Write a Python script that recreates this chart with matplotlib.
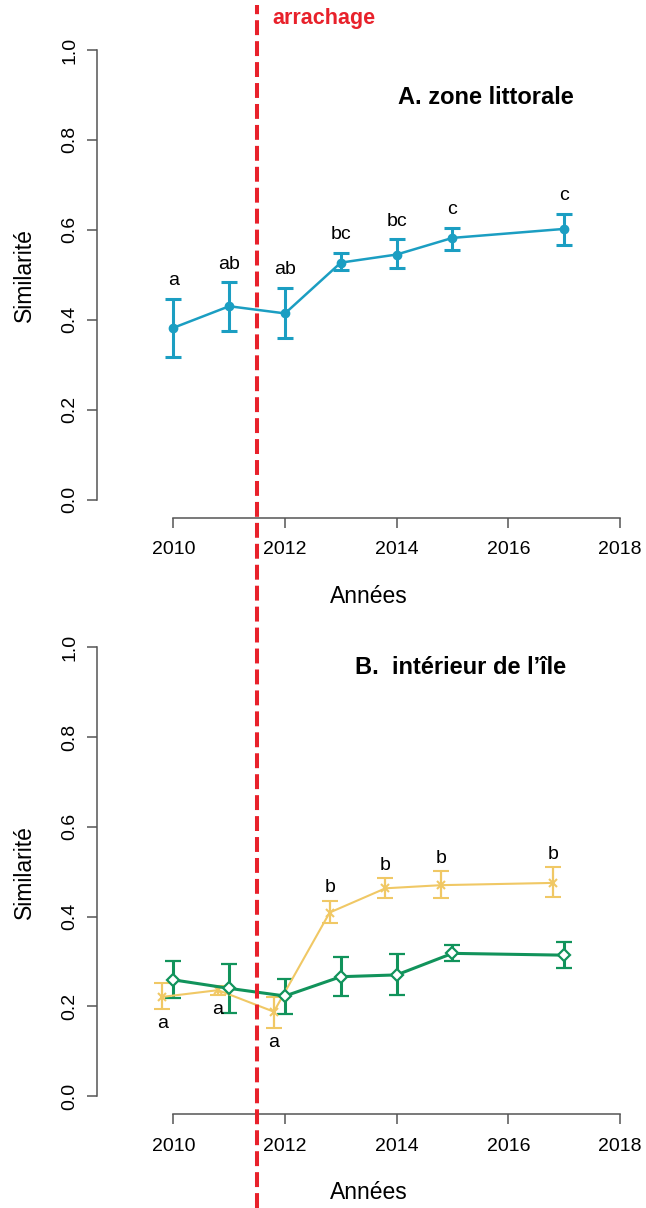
import matplotlib
matplotlib.use('Agg')
import matplotlib.pyplot as plt
import matplotlib.transforms as mtransforms
from matplotlib.lines import Line2D
import numpy as np

plt.rcParams['font.family'] = ['Liberation Sans', 'DejaVu Sans']

# données
annees = [2010, 2011, 2012, 2013, 2014, 2015, 2017]
annee_arrachage = 2011.5

# A. zone littorale
litt_moy = [0.382, 0.430, 0.414, 0.527, 0.545, 0.582, 0.602]
litt_haut = [0.447, 0.483, 0.471, 0.549, 0.579, 0.605, 0.636]
litt_bas = [0.317, 0.375, 0.360, 0.510, 0.514, 0.555, 0.566]
litt_lettres = ['a', 'ab', 'ab', 'bc', 'bc', 'c', 'c']

# B. intérieur de l'île (vert)
vert_moy = [0.259, 0.240, 0.223, 0.266, 0.270, 0.318, 0.314]
vert_haut = [0.301, 0.294, 0.261, 0.309, 0.316, 0.337, 0.344]
vert_bas = [0.219, 0.186, 0.183, 0.223, 0.225, 0.302, 0.285]

# B. intérieur de l'île (jaune)
jaune_moy = [0.221, 0.236, 0.188, 0.409, 0.463, 0.470, 0.475]
jaune_haut = [0.253, 0.246, 0.220, 0.435, 0.485, 0.501, 0.510]
jaune_bas = [0.193, 0.225, 0.151, 0.385, 0.441, 0.441, 0.443]
jaune_lettres = ['a', 'a', 'a', 'b', 'b', 'b', 'b']

x_ticks = [2010, 2012, 2014, 2016, 2018]
y_ticks = [0.0, 0.2, 0.4, 0.6, 0.8, 1.0]
y_labels = ['0.0', '0.2', '0.4', '0.6', '0.8', '1.0']

bleu = '#1b9ec2'
vert = '#11935b'
jaune = '#f0c865'
rouge = '#e8212b'
gris = '#555555'

fig = plt.figure(figsize=(6.46, 12.08), dpi=100)
ax1 = fig.add_axes([0.1509, 0.5716, 0.8398, 0.4019])
ax2 = fig.add_axes([0.1509, 0.0778, 0.8398, 0.4012])


def habiller(ax):
    ax.set_xlim(2008.64, 2018.36)
    ax.set_ylim(-0.04, 1.04)
    ax.spines['top'].set_visible(False)
    ax.spines['right'].set_visible(False)
    ax.spines['left'].set_bounds(0, 1)
    ax.spines['bottom'].set_bounds(2010, 2018)
    for s in ['left', 'bottom']:
        ax.spines[s].set_color(gris)
        ax.spines[s].set_linewidth(1.1)
    ax.set_xticks(x_ticks)
    ax.set_yticks(y_ticks)
    ax.set_yticklabels(y_labels, rotation=90, va='center')
    ax.tick_params(length=7, width=1.1, color=gris, labelsize=14)
    ax.tick_params(axis='y', pad=7)
    ax.tick_params(axis='x', pad=10)
    ax.set_xlabel('Années', fontsize=16.5, labelpad=19)
    ax.set_ylabel('Similarité', fontsize=16.5, labelpad=18)


habiller(ax1)
habiller(ax2)

x = np.array(annees, dtype=float)

# panneau A
m = np.array(litt_moy)
ax1.errorbar(x, m, yerr=[m - np.array(litt_bas), np.array(litt_haut) - m],
             fmt='-o', color=bleu, lw=1.8, ms=6, elinewidth=2.2,
             capsize=5.8, capthick=2.2)
for xi, h, l in zip(x, litt_haut, litt_lettres):
    ax1.annotate(l, (xi, h), xytext=(0, 18), textcoords='offset pixels',
                 ha='center', va='center', fontsize=14)
ax1.text(2014.02, 0.895, 'A. zone littorale', fontsize=17,
         fontweight='bold', va='center', ha='left')

# panneau B
xj = x - 0.2
mj = np.array(jaune_moy)
ax2.errorbar(xj, mj, yerr=[mj - np.array(jaune_bas), np.array(jaune_haut) - mj],
             fmt='-x', color=jaune, lw=1.5, ms=6, mew=1.5, elinewidth=1.6,
             capsize=5.8, capthick=1.6)
mv = np.array(vert_moy)
ax2.errorbar(x, mv, yerr=[mv - np.array(vert_bas), np.array(vert_haut) - mv],
             fmt='-D', color=vert, lw=2.2, ms=6, mfc='white', mec=vert,
             mew=1.6, elinewidth=2.2, capsize=6, capthick=2.2)
ax2.plot(x, mv, '+', color=vert, ms=4, mew=1.1, ls='none')
for xi, h, b, l in zip(xj, jaune_haut, jaune_bas, jaune_lettres):
    if l == 'a':
        ax2.annotate(l, (xi, b), xytext=(0, -14), textcoords='offset pixels',
                     ha='center', va='center', fontsize=14)
    else:
        ax2.annotate(l, (xi, h), xytext=(0, 13), textcoords='offset pixels',
                     ha='center', va='center', fontsize=14)
ax2.text(2013.26, 0.955, 'B.  intérieur de l\u2019île', fontsize=17,
         fontweight='bold', va='center', ha='left')

# ligne d'arrachage sur toute la hauteur
trans = mtransforms.blended_transform_factory(ax1.transData, fig.transFigure)
fig.add_artist(Line2D([annee_arrachage, annee_arrachage], [0, 0.996],
                      transform=trans, color=rouge, lw=2.9,
                      linestyle=(0, (3.7, 1.5))))
ax1.annotate('arrachage', (annee_arrachage, 1.04), xytext=(15, 14),
             textcoords='offset pixels', ha='left', va='center',
             color=rouge, fontsize=15.5, fontweight='bold',
             annotation_clip=False)

fig.savefig('out.png', dpi=100)
